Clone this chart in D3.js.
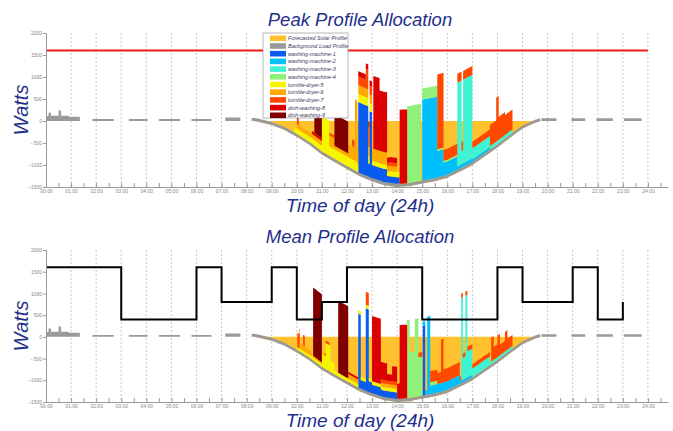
<!DOCTYPE html>
<html>
<head>
<meta charset="utf-8">
<script src="https://cdn.jsdelivr.net/npm/d3@7"></script>
<style>
  body { margin: 0; background: #fff; }
  svg { display: block; }
  text { font-family: "Liberation Sans", Arial, sans-serif; }
</style>
</head>
<body>
<svg id="chart" width="673" height="431"></svg>
<script>
// ---- data ----
var hourTicks = d3.range(0, 25);
var halfHourTicks = d3.range(0, 24.6, 0.5);
var wattTicks = [-1500, -1000, -500, 0, 500, 1000, 1500, 2000];

var seriesKeys = ["bg", "wm1", "wm2", "wm3", "wm4", "td5", "td6", "td7", "dw8", "dw9"];
var legendLabels = ["Forecasted Solar Profile", "Background Load Profile", "washing-machine-1", "washing-machine-2",
  "washing-machine-3", "washing-machine-4", "tumble-dryer-5", "tumble-dryer-6", "tumble-dryer-7",
  "dish-washing-8", "dish-washing-9"];
var legendColors = ["#ffc22e", "#9a9a9a", "#0a5cf0", "#00bfff", "#3ff3d3", "#8ff07a", "#f5f500",
  "#ffaa00", "#ff4800", "#dd0000", "#800000"];

// forecasted solar generation (watts, drawn downwards)
var solarHours = [8.3, 8.5, 9, 9.5, 10, 10.5, 11, 11.5, 12, 12.5, 13, 13.5, 14, 14.5, 15, 15.5, 16, 16.5, 17, 17.5, 18, 18.5, 19, 19.5, 19.75];
var solarWatts = [0, 20, 90, 200, 360, 540, 760, 930, 1090, 1250, 1370, 1460, 1500, 1480, 1420, 1370, 1290, 1150, 1000, 800, 600, 380, 170, 40, 0];

// allocation limits
var peakLimit = 1600;
var meanLimitHours = d3.range(0, 24);
var meanLimitWatts = [1600, 1600, 1600, 400, 400, 400, 1600, 800, 800, 1600, 400, 800,
  1600, 1600, 1600, 400, 400, 400, 1600, 800, 800, 1600, 400, 800];

// background load runs [start hour, end hour, watts]
var backgroundLoad = [[0, 0.1, 110], [0.1, 0.2, 190], [0.2, 0.5, 120], [0.5, 0.6, 240], [0.6, 0.9, 120], [0.9, 1.35, 95],
  [1.85, 2.7, 45], [3.3, 4.05, 45], [4.5, 5.35, 45], [5.8, 6.6, 45], [7.15, 7.75, 80], [8.2, 19.7, 70],
  [19.75, 20.35, 60], [20.95, 21.5, 60], [21.95, 22.6, 60], [23.05, 23.75, 60]];

// peak profile appliance runs
var peakWM1 = [[12.45, 12.85, 1600], [12.85, 12.9, 300], [12.9, 13.0, 1500], [13.0, 13.6, 300], [13.6, 14.1, 150]];
var peakWM2 = [[15.0, 15.6, 1840], [15.6, 15.85, 600], [15.85, 16.4, 300], [16.4, 17.0, 80], [17.0, 17.7, 60]];
var peakWM3 = [[16.4, 16.57, 1900], [16.57, 16.63, 300], [16.63, 17.0, 1900], [17.0, 17.7, 250], [17.7, 18.6, 80]];
var peakWM4 = [[14.4, 14.95, 1750], [15.0, 15.6, 250], [15.6, 16.4, 40]];
var peakTD5 = [[9.9, 10.6, 120], [10.6, 11.0, 130], [11.0, 11.3, 800], [11.3, 12.4, 220], [12.4, 13.0, 180], [13.0, 13.7, 100], [13.7, 14.1, 120]];
var peakTD6 = [[10.0, 10.6, 100], [10.6, 11.0, 100], [11.3, 11.5, 250], [11.5, 12.05, 80], [12.05, 12.32, 300], [12.32, 12.42, 1400],
  [12.42, 12.45, 300], [12.45, 13.0, 200], [13.0, 13.6, 280], [13.6, 14.0, 120]];
var peakTD7 = [[10.0, 10.08, 400], [11.3, 11.5, 60], [12.2, 12.3, 150], [12.45, 12.75, 200], [12.75, 12.9, 450], [12.9, 13.0, 200],
  [13.6, 14.0, 80], [15.6, 15.85, 1700], [15.85, 16.4, 250], [16.4, 17.0, 200], [17.0, 17.7, 150], [17.7, 17.95, 480],
  [17.95, 18.05, 1000], [18.05, 18.3, 520], [18.3, 18.6, 450]];
var peakDW8 = [[10.6, 11.0, 60], [12.45, 13.0, 120], [13.05, 13.3, 1650], [13.3, 13.6, 1370], [13.6, 14.0, 120], [14.1, 14.4, 1680]];
var peakDW9 = [[10.7, 11.0, 480], [11.5, 12.05, 720]];

// mean profile appliance runs
var meanWM1 = [[12.45, 12.55, 1700], [12.55, 12.75, 200], [12.75, 12.87, 1900], [12.87, 13.0, 250], [13.0, 13.35, 200],
  [13.35, 14.0, 150], [15.02, 15.12, 1600]];
var meanWM2 = [[15.0, 15.2, 100], [15.2, 15.32, 1800], [15.32, 16.5, 200], [16.5, 17.0, 60]];
var meanWM3 = [[16.55, 16.62, 1900], [16.62, 16.72, 500], [16.72, 16.8, 1900], [16.8, 17.0, 600], [17.0, 17.7, 200], [17.7, 18.6, 60]];
var meanWM4 = [[14.4, 14.5, 1800], [14.5, 14.7, 1050], [14.7, 14.85, 1800], [14.85, 15.0, 900], [15.32, 15.6, 80]];
var meanTD5 = [[10.0, 10.65, 60], [10.65, 11.0, 60], [11.0, 11.15, 300], [11.15, 11.35, 600], [11.35, 11.5, 250], [11.5, 14.0, 80]];
var meanTD6 = [[10.1, 10.6, 120], [10.65, 11.0, 40], [12.05, 12.45, 100], [13.35, 14.0, 80]];
var meanTD7 = [[10.02, 10.12, 330], [10.25, 10.32, 250], [11.1, 11.3, 60], [12.75, 12.87, 300], [13.35, 14.0, 80], [14.85, 15.0, 100],
  [15.32, 15.75, 250], [15.75, 15.85, 1000], [15.85, 16.5, 300], [16.5, 17.0, 100], [17.0, 17.7, 100], [17.75, 17.85, 550],
  [17.85, 18.0, 300], [18.0, 18.1, 500], [18.1, 18.3, 250], [18.3, 18.4, 450], [18.4, 18.6, 250]];
var meanDW8 = [[12.05, 12.45, 50], [13.0, 13.35, 1500], [13.35, 13.6, 400], [13.6, 13.8, 150], [13.8, 14.1, 350], [14.1, 14.4, 1700]];
var meanDW9 = [[10.65, 11.0, 1570], [11.65, 12.05, 1660]];

// ---- drawing ----
var svg = d3.select("#chart");
var titleColor = "#1f2f8a";
var color = d3.scaleOrdinal().domain(seriesKeys).range(legendColors.slice(1));

var x = d3.scaleLinear().domain([0, 24.8]).range([46, 668]);
var solarAt = d3.scaleLinear().domain(solarHours).range(solarWatts).clamp(true);

// turn runs into stacked rows, two rows per interval so steps stay sharp
function buildRows(runs) {
  var cuts = new Set([0, 24]);
  seriesKeys.forEach(function(k) {
    runs[k].forEach(function(r) { cuts.add(r[0]); cuts.add(r[1]); });
  });
  solarHours.forEach(function(h) { cuts.add(h); });
  var ts = Array.from(cuts).sort(function(a, b) { return a - b; });
  var rows = [];
  for (var i = 0; i < ts.length - 1; i++) {
    var a = ts[i], b = ts[i + 1], mid = (a + b) / 2;
    var v = {};
    seriesKeys.forEach(function(k) {
      v[k] = d3.sum(runs[k], function(r) { return (r[0] <= mid && mid < r[1]) ? r[2] : 0; });
    });
    rows.push(Object.assign({ t: a, floor: -solarAt(a) }, v));
    rows.push(Object.assign({ t: b, floor: -solarAt(b) }, v));
  }
  return rows;
}

function drawPanel(top, bottom, runs, title, limit) {
  var y = d3.scaleLinear().domain([-1500, 2000]).range([bottom, top]);
  var g = svg.append("g");

  // hourly dotted grid
  g.selectAll(".grid").data(hourTicks.slice(1)).enter().append("line")
    .attr("x1", function(d) { return x(d); }).attr("x2", function(d) { return x(d); })
    .attr("y1", top).attr("y2", bottom)
    .attr("stroke", "#b0b0b0").attr("stroke-width", 0.7).attr("stroke-dasharray", "2,2");

  // solar forecast
  var solarArea = d3.area()
    .x(function(d, i) { return x(solarHours[i]); })
    .y0(y(0))
    .y1(function(d) { return y(-d); });
  g.append("path").datum(solarWatts).attr("d", solarArea).attr("fill", legendColors[0]);

  // stacked loads sitting on the solar curve
  var rows = buildRows(runs);
  var layers = d3.stack().keys(seriesKeys)(rows);
  var area = d3.area()
    .x(function(d) { return x(d.data.t); })
    .y0(function(d) { return y(d[0] + d.data.floor); })
    .y1(function(d) { return y(d[1] + d.data.floor); });
  g.selectAll(".layer").data(layers).enter().append("path")
    .attr("d", area)
    .attr("fill", function(d) { return color(d.key); });

  // allocation limit
  if (limit === "peak") {
    g.append("line").attr("x1", x(0)).attr("x2", x(24))
      .attr("y1", y(peakLimit)).attr("y2", y(peakLimit))
      .attr("stroke", "#ee1c1c").attr("stroke-width", 2);
  } else {
    var step = d3.line().curve(d3.curveStepAfter)
      .x(function(d, i) { return x(meanLimitHours[i]); })
      .y(function(d) { return y(d); });
    g.append("path").datum(meanLimitWatts).attr("d", step)
      .attr("fill", "none").attr("stroke", "#000").attr("stroke-width", 2);
  }

  // axes
  var yAxis = d3.axisLeft(y).tickValues(wattTicks).tickSize(3).tickPadding(1).tickFormat(d3.format("d"));
  var ya = g.append("g").attr("transform", "translate(" + x(0) + ",0)").call(yAxis);
  var xAxis = d3.axisBottom(x).tickValues(halfHourTicks).tickSizeInner(-4).tickSizeOuter(0).tickPadding(2)
    .tickFormat(function(d) { return d % 1 === 0 ? d3.format("02")(d) + ":00" : ""; });
  var xa = g.append("g").attr("transform", "translate(0," + bottom + ")").call(xAxis);
  [ya, xa].forEach(function(a) {
    a.select(".domain").attr("stroke", "#999");
    a.selectAll(".tick line").attr("stroke", "#999");
    a.selectAll("text").attr("fill", "#888").style("font-size", "5px");
  });

  // texts
  svg.append("text").attr("x", 360).attr("y", top - 7).attr("text-anchor", "middle")
    .style("font-size", "18.5px").style("font-style", "italic").attr("fill", titleColor).text(title);
  svg.append("text").attr("x", 360).attr("y", bottom + 25).attr("text-anchor", "middle")
    .style("font-size", "19px").style("font-style", "italic").attr("fill", titleColor).text("Time of day (24h)");
  svg.append("text").attr("transform", "translate(28," + (top + bottom) / 2 + ") rotate(-90)")
    .attr("text-anchor", "middle").style("font-size", "20px").style("font-style", "italic")
    .attr("fill", titleColor).text("Watts");
}

drawPanel(33, 187, { bg: backgroundLoad, wm1: peakWM1, wm2: peakWM2, wm3: peakWM3, wm4: peakWM4,
  td5: peakTD5, td6: peakTD6, td7: peakTD7, dw8: peakDW8, dw9: peakDW9 }, "Peak Profile Allocation", "peak");
drawPanel(250, 402, { bg: backgroundLoad, wm1: meanWM1, wm2: meanWM2, wm3: meanWM3, wm4: meanWM4,
  td5: meanTD5, td6: meanTD6, td7: meanTD7, dw8: meanDW8, dw9: meanDW9 }, "Mean Profile Allocation", "mean");

// legend on the top panel
var legend = svg.append("g").attr("transform", "translate(263,33)");
legend.append("rect").attr("width", 85).attr("height", 85)
  .attr("fill", "#fff").attr("stroke", "#888").attr("stroke-width", 0.6);
var item = legend.selectAll(".item").data(legendLabels).enter().append("g")
  .attr("transform", function(d, i) { return "translate(7," + (2.5 + i * 7.7) + ")"; });
item.append("rect").attr("width", 16).attr("height", 5.6)
  .attr("fill", function(d, i) { return legendColors[i]; });
item.append("text").attr("x", 18).attr("y", 4.8).text(function(d) { return d; })
  .style("font-size", "5.5px").style("font-style", "italic").attr("fill", "#3a3a5a");
</script>
</body>
</html>
